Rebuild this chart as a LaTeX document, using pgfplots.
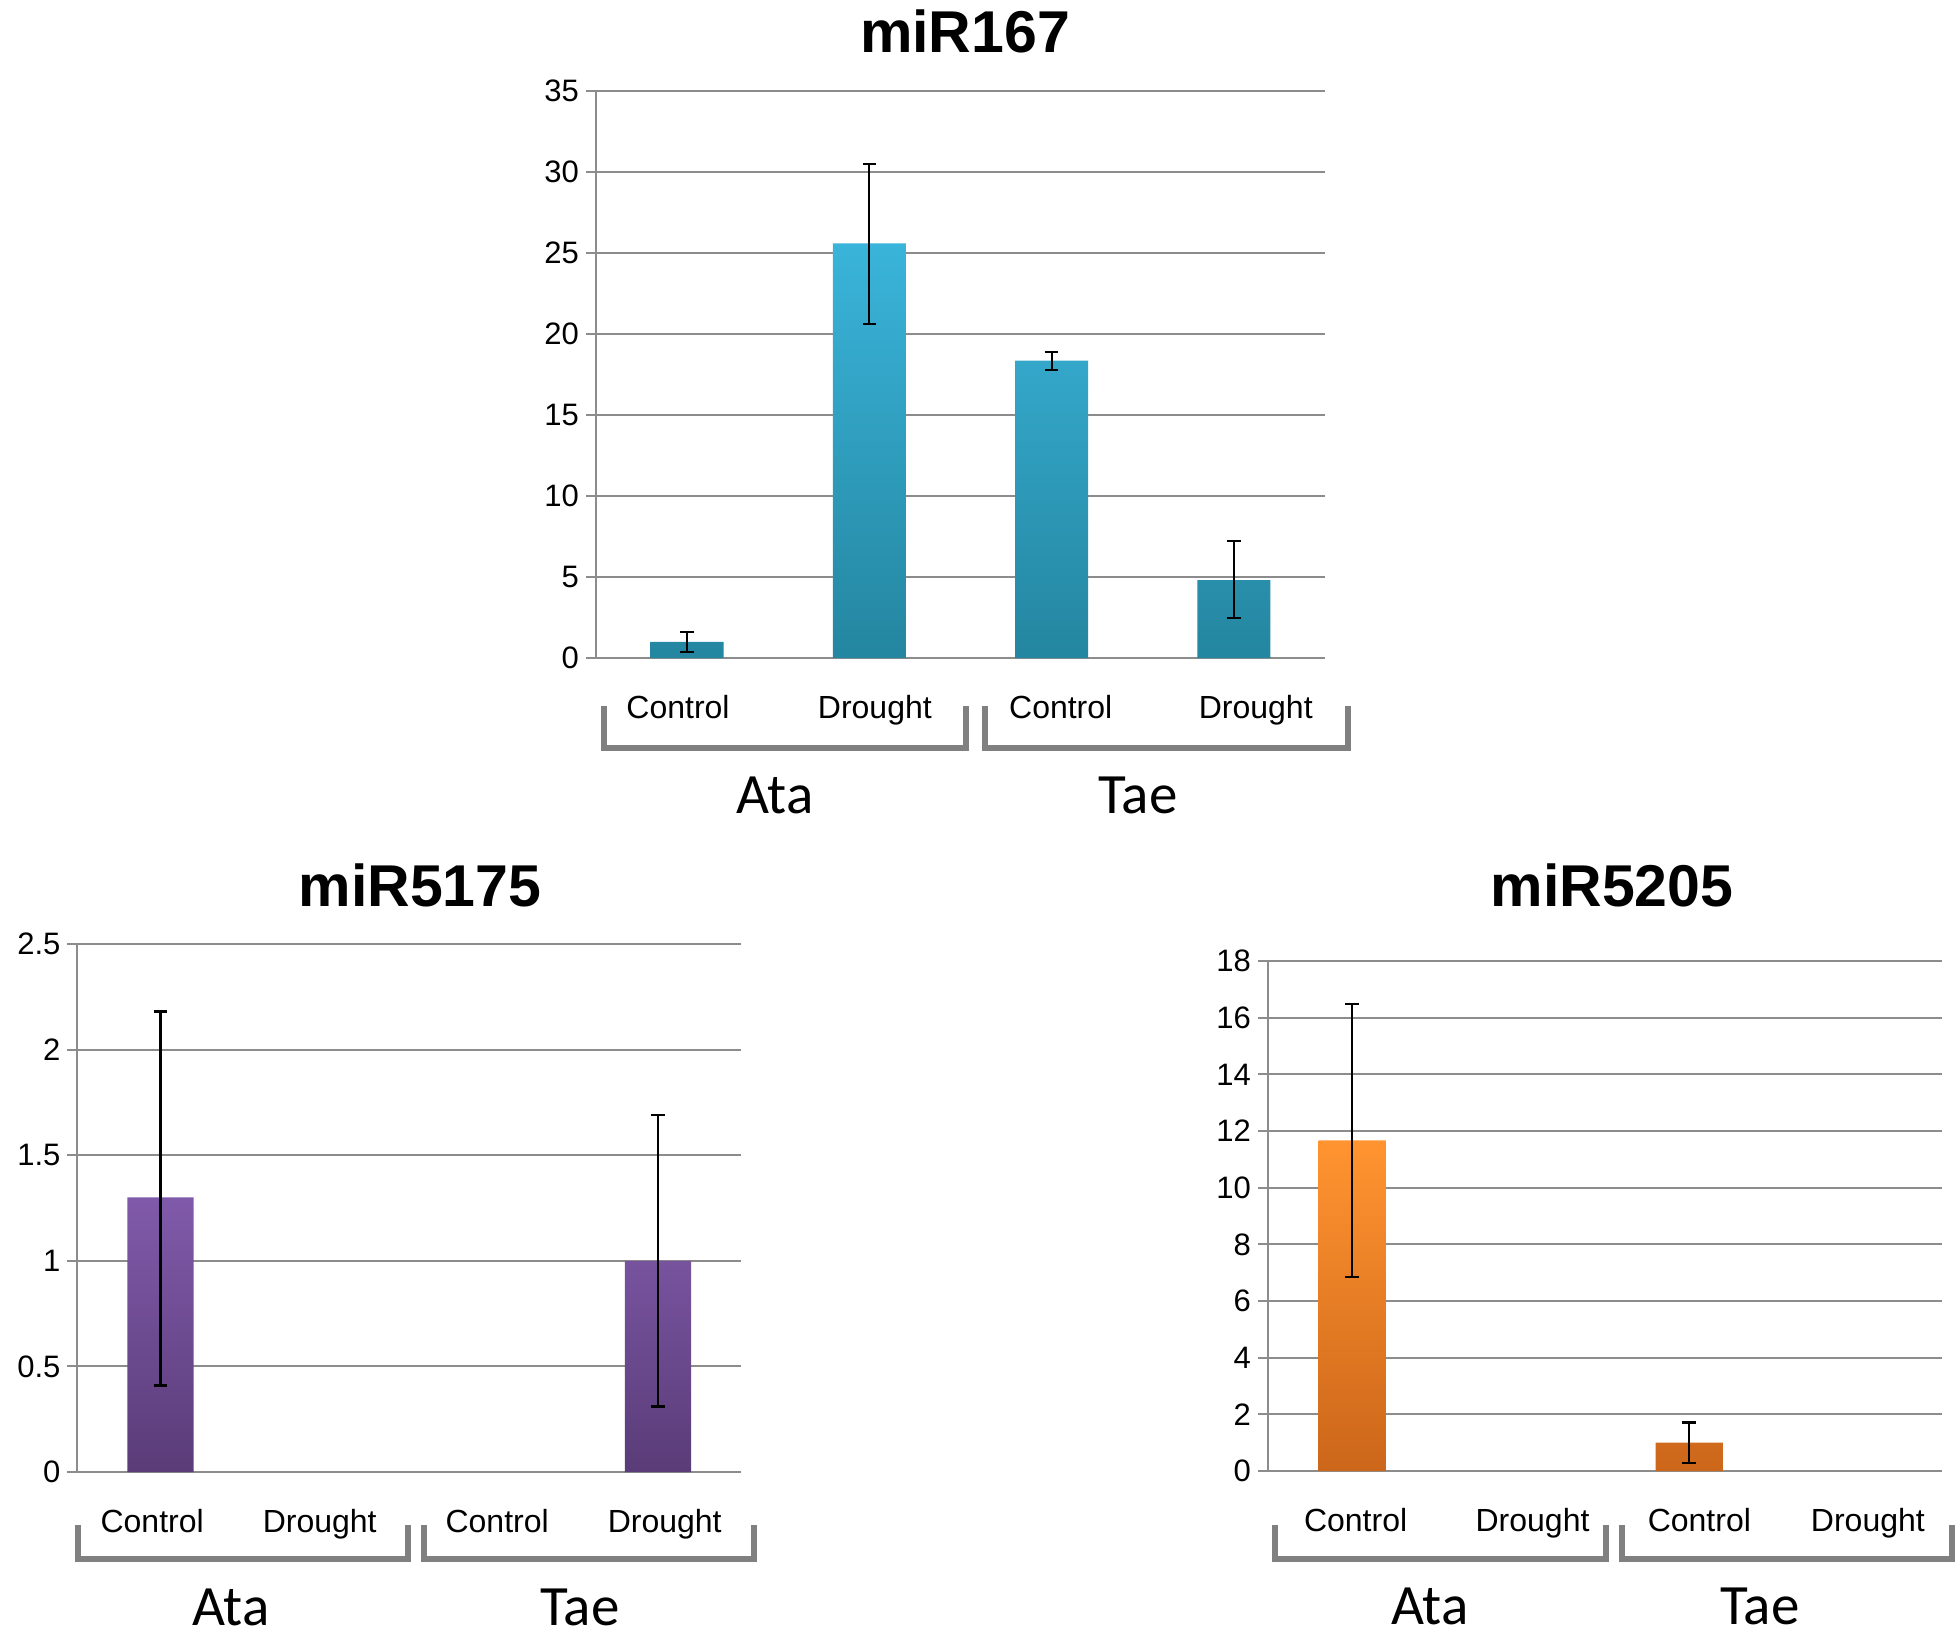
\documentclass[border=0pt]{standalone}
\usepackage{fontspec}
\setmainfont{Liberation Sans}
\newfontfamily\calibri{Carlito}
\usepackage{pgfplots}
\pgfplotsset{compat=1.18}
\definecolor{gridgray}{RGB}{140,140,140}
\definecolor{brgray}{RGB}{128,128,128}
\definecolor{cyanT}{RGB}{58,180,218}
\definecolor{cyanB}{RGB}{36,134,160}
\definecolor{purT}{RGB}{128,90,170}
\definecolor{purB}{RGB}{90,60,120}
\definecolor{orT}{RGB}{255,148,48}
\definecolor{orB}{RGB}{204,102,26}
\pgfplotsset{
  base/.style={
    scale only axis, anchor=south west, clip=false,
    xmin=-0.5, xmax=3.5, ymin=0,
    xticklabels={Control,Drought,Control,Drought},
    xtick style={draw=none},
    axis lines*=left,
    axis line style={gridgray, line width=1pt},
    ymajorgrids, grid style={gridgray, line width=1pt},
    ytick style={gridgray, line width=1pt},
    tick align=outside, major tick length=5pt,
    /pgf/number format/assume math mode=true,
    yticklabel style={font=\fontsize{15.5}{18}\selectfont},
    xticklabel style={font=\fontsize{16}{19}\selectfont, anchor=base, yshift=-25pt},
  },
  bars/.style n args={2}{ybar, bar width=0.4, draw=none, top color=#1, bottom color=#2, bar shift=0pt,
    error bars/.cd, y dir=both, y explicit,
    error bar style={black, line width=1.1pt},
    error mark options={black, rotate=90, mark size=3.4pt, line width=1.1pt}},
}
\begin{document}
\begin{tikzpicture}
\path[use as bounding box] (0,0) rectangle (980pt,-818.5pt);
% ---------- miR167 ----------
\begin{axis}[base, at={(298pt,-329pt)}, width=364.5pt, height=283.5pt,
  xtick={-0.05,1.03,2.05,3.12},
  ymax=35, ytick={0,5,...,35}]
\addplot[bars={cyanT}{cyanB}] coordinates {
 (0,1.0) += (0,0.62) -= (0,0.65)
 (1,25.6) += (0,4.9) -= (0,5.0)
 (2,18.35) += (0,0.55) -= (0,0.55)
 (3,4.8) += (0,2.4) -= (0,2.35)
};
\end{axis}
% ---------- miR5175 ----------
\begin{axis}[base, at={(38.75pt,-736pt)}, width=331.75pt, height=264pt,
  xtick={-0.05,0.96,2.03,3.04},
  ymax=2.5, ytick={0,0.5,1,1.5,2,2.5}]
\addplot[bars={purT}{purB}] coordinates {
 (0,1.3) += (0,0.88) -= (0,0.89)
 (3,1.0) += (0,0.69) -= (0,0.69)
};
\end{axis}
% ---------- miR5205 ----------
\begin{axis}[base, at={(634pt,-735.5pt)}, width=337pt, height=255pt,
  xtick={0.02,1.07,2.06,3.06},
  ymax=18, ytick={0,2,...,18}]
\addplot[bars={orT}{orB}] coordinates {
 (0,11.67) += (0,4.81) -= (0,4.81)
 (2,1.0) += (0,0.71) -= (0,0.72)
};
\end{axis}
% titles
\node[font=\bfseries\fontsize{29.5}{34}\selectfont] at (482.5pt,-15.5pt) {miR167};
\node[font=\bfseries\fontsize{29.5}{34}\selectfont] at (210pt,-442.5pt) {miR5175};
\node[font=\bfseries\fontsize{29.5}{34}\selectfont] at (806pt,-442.5pt) {miR5205};
% brackets
\begin{scope}[brgray, line width=3pt, line cap=butt, line join=miter]
\draw (302pt,-353pt) -- (302pt,-374pt) -- (483pt,-374pt) -- (483pt,-353pt);
\draw (492.5pt,-353pt) -- (492.5pt,-374pt) -- (674pt,-374pt) -- (674pt,-353pt);
\draw (38.75pt,-762.5pt) -- (38.75pt,-779.5pt) -- (203.75pt,-779.5pt) -- (203.75pt,-762.5pt);
\draw (212pt,-762.5pt) -- (212pt,-779.5pt) -- (377pt,-779.5pt) -- (377pt,-762.5pt);
\draw (637.5pt,-762.5pt) -- (637.5pt,-779.5pt) -- (803pt,-779.5pt) -- (803pt,-762.5pt);
\draw (810.75pt,-762.5pt) -- (810.75pt,-779.5pt) -- (976pt,-779.5pt) -- (976pt,-762.5pt);
\end{scope}
% group labels
\begin{scope}[font=\calibri\fontsize{28.5}{33}\selectfont]
\node at (387.5pt,-397.5pt) {Ata};
\node at (569pt,-397.5pt) {Tae};
\node at (115.5pt,-803.5pt) {Ata};
\node at (290pt,-803.5pt) {Tae};
\node at (715pt,-803pt) {Ata};
\node at (880pt,-803pt) {Tae};
\end{scope}
\end{tikzpicture}
\end{document}
